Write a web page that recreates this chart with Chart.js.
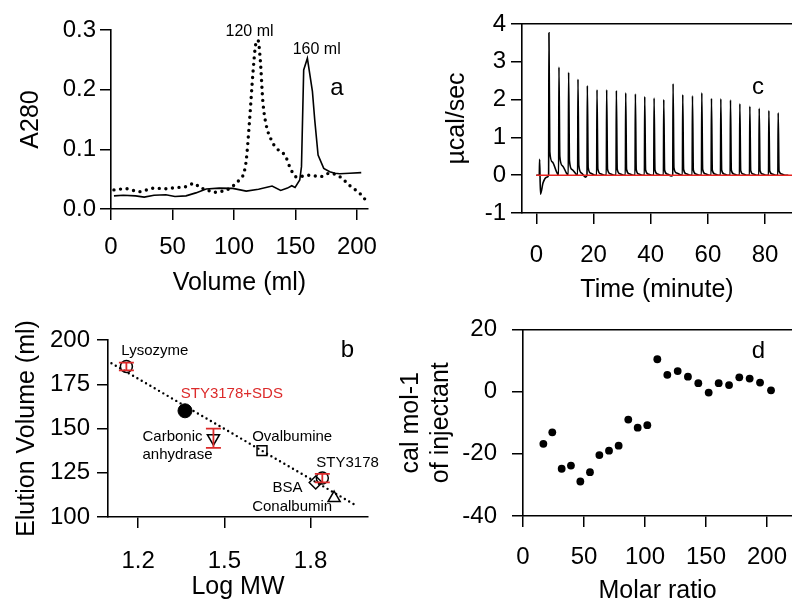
<!DOCTYPE html>
<html><head><meta charset="utf-8">
<script src="https://cdn.jsdelivr.net/npm/chart.js@4.4.1/dist/chart.umd.min.js"></script>
<style>
html,body{margin:0;padding:0;background:#fff;}
#wrap{position:relative;width:792px;height:603px;overflow:hidden;background:#fff;}
canvas{position:absolute;}
</style></head><body>
<div id="wrap">
<canvas id="ca" width="396" height="310" style="left:0;top:0"></canvas>
<canvas id="cc" width="420" height="310" style="left:396px;top:0"></canvas>
<canvas id="cb" width="396" height="303" style="left:0;top:300px"></canvas>
<canvas id="cd" width="420" height="306" style="left:396px;top:300px"></canvas>
</div>
<script>
// ---------------- Panel a: gel filtration profiles ----------------
const volSolid = [2.4, 10, 20, 27, 35, 44.6, 52, 61, 69, 77.4, 88, 99, 110, 120, 131, 138, 143.5, 147, 149.7, 153.5, 154.9, 156.7, 159.7, 163.8, 165.7, 168.4, 173, 177.9, 182, 186, 194, 203.5];
const a280Solid = [0.022, 0.023, 0.022, 0.020, 0.023, 0.024, 0.021, 0.022, 0.027, 0.0335, 0.035, 0.0346, 0.030, 0.033, 0.0385, 0.031, 0.035, 0.039, 0.036, 0.0486, 0.071, 0.233, 0.2525, 0.197, 0.149, 0.0905, 0.068, 0.0626, 0.0598, 0.059, 0.060, 0.061];
const volDotted = [2.4, 12, 22.9, 35, 44, 53, 60, 68, 72, 77.5, 83, 88.3, 97.8, 101.8, 104.6, 108, 110, 112.7, 115.4, 117.6, 119.5, 121.4, 123.5, 126.2, 130.3, 134.4, 139.8, 142.5, 145.3, 150.7, 153.5, 158.9, 164, 169.8, 178, 186.2, 194.3, 202.4, 207.9];
const a280Dotted = [0.032, 0.034, 0.029, 0.035, 0.034, 0.036, 0.037, 0.043, 0.036, 0.033, 0.028, 0.029, 0.036, 0.044, 0.049, 0.060, 0.082, 0.149, 0.227, 0.275, 0.283, 0.250, 0.180, 0.141, 0.116, 0.102, 0.094, 0.086, 0.071, 0.054, 0.054, 0.0565, 0.056, 0.054, 0.060, 0.054, 0.039, 0.026, 0.013];
const aXTicks = [0, 50, 100, 150, 200];
const aXLabels = ['0', '50', '100', '150', '200'];
const aYTicks = [0, 0.1, 0.2, 0.3];
const aYLabels = ['0.0', '0.1', '0.2', '0.3'];

// ---------------- Panel b: calibration ----------------
const stdNames = ['Lysozyme', 'Carbonic anhydrase', 'Ovalbumine', 'BSA', 'Conalbumin'];
const stdLogMW = [1.159, 1.462, 1.631, 1.818, 1.882];
const stdElution = [185, 144.5, 137.5, 119.5, 110.7];
const stdError = [2.2, 5.4, 0, 0, 0];
const sampleNames = ['STY3178', 'STY3178+SDS'];
const sampleLogMW = [1.841, 1.363];
const sampleElution = [122, 160];
const sampleError = [2.4, 0];
const fitLogMW = [1.107, 1.964];
const fitElution = [186.9, 106];
const bXTicks = [1.2, 1.5, 1.8];
const bXLabels = ['1.2', '1.5', '1.8'];
const bYTicks = [100, 125, 150, 175, 200];
const bYLabels = ['100', '125', '150', '175', '200'];

// ---------------- Panel c: ITC raw trace ----------------
const injTime = [1.16, 4.42, 7.92, 11.30, 14.57, 17.84, 21.22, 24.60, 27.99, 31.26, 34.64, 37.91, 41.18, 44.56, 47.82, 51.20, 54.60, 57.86, 61.24, 64.51, 67.89, 71.16, 74.66, 77.93, 81.31, 84.57];
const peakHeight = [0.42, 3.77, 2.86, 2.72, 2.54, 2.37, 2.26, 2.26, 2.24, 2.18, 2.15, 2.08, 2.04, 2.00, 2.42, 2.13, 2.10, 2.18, 2.03, 2.02, 1.99, 1.89, 1.82, 1.77, 1.71, 1.65];
const tailEarly = [-0.50, 0.62, 0.50, 0.38, 0.26, 0.20, 0.17, 0.16, 0.16, 0.15, 0.15, 0.14, 0.14, 0.13, 0.20, 0.15, 0.14, 0.15, 0.13, 0.13, 0.13, 0.12, 0.12, 0.12, 0.11, 0.11];
const tailMid = [-0.20, 0.35, 0.25, 0.15, 0.06, 0.05, 0.04, 0.04, 0.04, 0.04, 0.03, 0.03, 0.03, 0.03, 0.06, 0.04, 0.03, 0.04, 0.03, 0.03, 0.03, 0.03, 0.03, 0.03, 0.03, 0.03];
const tailLate = [-0.05, 0.10, 0.06, 0.03, -0.05, 0.0, 0.0, 0.0, 0.0, 0.0, 0.0, 0.0, 0.0, -0.02, 0.01, 0.0, 0.0, 0.0, 0.0, 0.0, 0.0, 0.0, 0.0, 0.0, 0.0, 0.0];
const traceStart = [0, 0];
const traceEnd = [88.1, 0];
const baselineTime = [0, 89.4];
const baselinePower = [0, 0];
const cXTicks = [0, 20, 40, 60, 80];
const cXLabels = ['0', '20', '40', '60', '80'];
const cYTicks = [-1, 0, 1, 2, 3, 4];
const cYLabels = ['-1', '0', '1', '2', '3', '4'];

// ---------------- Panel d: integrated heats ----------------
const molarRatio = [16.7, 24.0, 31.7, 39.3, 47.0, 54.9, 62.6, 70.5, 78.4, 86.3, 94.0, 101.9, 110.1, 118.3, 126.8, 135.2, 143.7, 152.2, 160.4, 168.9, 177.3, 185.8, 194.3, 203.3];
const heatPerInj = [-16.8, -13.1, -24.8, -23.8, -28.9, -25.9, -20.4, -19.0, -17.4, -9.0, -11.6, -10.8, 10.4, 5.4, 6.6, 4.8, 2.7, -0.3, 2.7, 2.1, 4.6, 4.2, 2.9, 0.4];
const dXTicks = [0, 50, 100, 150, 200];
const dXLabels = ['0', '50', '100', '150', '200'];
const dYTicks = [-40, -20, 0, 20];
const dYLabels = ['-40', '-20', '0', '20'];

// ================= rendering =================
const FONT = "'Liberation Sans', Arial, Helvetica, sans-serif";
Chart.defaults.font.family = FONT;
Chart.defaults.color = '#000';
Chart.defaults.animation = false;
const RED = '#dc2a2a';

function xy(xs, ys) { return xs.map((v, i) => ({x: v, y: ys[i]})); }

function xAxis(cfg) {
  return {
    type: 'linear', position: 'bottom', min: cfg.min, max: cfg.max,
    afterBuildTicks: s => { s.ticks = cfg.ticks.map(v => ({value: v})); },
    afterFit: s => { s.height = cfg.H - cfg.area.bottom; },
    ticks: {autoSkip: false, maxRotation: 0, minRotation: 0, padding: cfg.pad, font: {size: 24},
      callback: (v, i) => cfg.labels[i]},
    grid: {display: true, drawOnChartArea: false, drawTicks: true, tickLength: 11, tickWidth: 1.5, tickColor: '#000', color: '#000', lineWidth: 1.5},
    border: {display: true, color: '#000', width: 1.6},
    title: {display: true, text: cfg.title, font: {size: 25, lineHeight: 1}, padding: {top: 0, bottom: cfg.tpad}}
  };
}
function yAxis(cfg) {
  return {
    type: 'linear', position: 'left', min: cfg.min, max: cfg.max,
    afterBuildTicks: s => { s.ticks = cfg.ticks.map(v => ({value: v})); },
    afterFit: s => { s.width = cfg.area.left; },
    ticks: {autoSkip: false, padding: cfg.pad, font: {size: 24}, callback: (v, i) => cfg.labels[i]},
    grid: {display: true, drawOnChartArea: false, drawTicks: true, tickLength: 11, tickWidth: 1.5, tickColor: '#000', color: '#000', lineWidth: 1.5},
    border: {display: true, color: '#000', width: 1.6},
    title: {display: true, text: cfg.title, font: {size: 25, lineHeight: cfg.lh || 1}, padding: {top: cfg.tpad, bottom: 0}}
  };
}
function topFrame(min, max) {
  return {
    type: 'linear', position: 'top', min: min, max: max,
    afterFit: s => { s.height = 0; },
    ticks: {display: false}, grid: {display: false, drawTicks: false},
    border: {display: true, color: '#000', width: 1.6}
  };
}
function layoutFor(area, W) {
  return {padding: {left: 0, top: area.top, right: W - area.right, bottom: 0}};
}
function textPlugin(items) {
  return {
    id: 'texts',
    afterDatasetsDraw(chart) {
      const {ctx} = chart; const sx = chart.scales.x, sy = chart.scales.y;
      ctx.save();
      items.forEach(it => {
        ctx.font = it.size + 'px ' + FONT;
        ctx.fillStyle = it.color || '#000';
        ctx.textAlign = it.align || 'center';
        ctx.textBaseline = 'middle';
        ctx.fillText(it.text, sx.getPixelForValue(it.x), sy.getPixelForValue(it.y));
      });
      ctx.restore();
    }
  };
}
const basePlugins = {legend: {display: false}, tooltip: {enabled: false}};

// ---- Panel a ----
(function () {
  const W = 396, H = 310, area = {left: 111, top: 30, right: 368, bottom: 209};
  new Chart(document.getElementById('ca'), {
    type: 'scatter',
    data: {datasets: [
      {data: xy(volSolid, a280Solid), showLine: true, borderColor: '#000', borderWidth: 1.6, pointRadius: 0, tension: 0},
      {data: xy(volDotted, a280Dotted), showLine: true, borderColor: '#000', borderWidth: 3.4, borderDash: [0, 6.6], borderCapStyle: 'round', pointRadius: 0, cubicInterpolationMode: 'monotone'}
    ]},
    options: {
      responsive: false, layout: layoutFor(area, W), plugins: basePlugins,
      scales: {
        x: xAxis({min: 0, max: 209, ticks: aXTicks, labels: aXLabels, H, area, pad: 13, title: 'Volume (ml)', tpad: 14}),
        y: yAxis({min: 0, max: 0.3, ticks: aYTicks, labels: aYLabels, area, pad: 4, title: 'A280', tpad: 19})
      }
    },
    plugins: [textPlugin([
      {text: '120 ml', x: 112.7, y: 0.2966, size: 16},
      {text: '160 ml', x: 167.3, y: 0.2665, size: 16},
      {text: 'a', x: 183.7, y: 0.2028, size: 24}
    ])]
  });
})();

// ---- Panel c ----
(function () {
  const W = 420, H = 310, area = {left: 126, top: 24, right: 396, bottom: 213};
  const trace = [{x: traceStart[0], y: traceStart[1]}];
  injTime.forEach((t, i) => {
    trace.push({x: t - 0.12, y: 0});
    trace.push({x: t, y: peakHeight[i]});
    trace.push({x: t + 0.3, y: tailEarly[i]});
    trace.push({x: t + 1.2, y: tailMid[i]});
    trace.push({x: t + 2.6, y: tailLate[i]});
  });
  trace.push({x: traceEnd[0], y: traceEnd[1]});
  new Chart(document.getElementById('cc'), {
    type: 'scatter',
    data: {datasets: [
      {data: xy(baselineTime, baselinePower), showLine: true, borderColor: '#e8231f', borderWidth: 1.6, pointRadius: 0},
      {data: trace, showLine: true, borderColor: '#000', borderWidth: 1.6, pointRadius: 0, cubicInterpolationMode: 'monotone'}
    ]},
    options: {
      responsive: false, layout: layoutFor(area, W), plugins: basePlugins,
      scales: {
        x: xAxis({min: -5, max: 89.4, ticks: cXTicks, labels: cXLabels, H, area, pad: 17, title: 'Time (minute)', tpad: 7}),
        y: yAxis({min: -1, max: 4, ticks: cYTicks, labels: cYLabels, area, pad: 5, title: 'µcal/sec', tpad: 49}),
        x2: topFrame(-5, 89.4)
      }
    },
    plugins: [textPlugin([{text: 'c', x: 77.5, y: 2.316, size: 24}])]
  });
})();

// ---- Panel b ----
(function () {
  const W = 396, H = 303, area = {left: 108, top: 40, right: 368, bottom: 217};
  const stdStyles = [
    {pointStyle: 'circle', radius: 6, rotation: 0},
    {pointStyle: 'triangle', radius: 7, rotation: 180},
    {pointStyle: 'rect', radius: 7, rotation: 0},
    {pointStyle: 'rectRot', radius: 6.5, rotation: 0},
    {pointStyle: 'triangle', radius: 7, rotation: 0}
  ];
  const ds = [];
  ds.push({data: xy(fitLogMW, fitElution), showLine: true, borderColor: '#000', borderWidth: 2.4, borderDash: [0, 5], borderCapStyle: 'round', pointRadius: 0});
  stdLogMW.forEach((v, i) => {
    const st = stdStyles[i];
    ds.push({data: [{x: v, y: stdElution[i]}], pointStyle: st.pointStyle, pointRadius: st.radius, pointRotation: st.rotation,
      pointBorderColor: '#000', pointBackgroundColor: 'rgba(0,0,0,0)', pointBorderWidth: 1.5});
  });
  ds.push({data: [{x: sampleLogMW[0], y: sampleElution[0]}], pointStyle: 'circle', pointRadius: 6, pointBorderColor: '#000', pointBackgroundColor: 'rgba(0,0,0,0)', pointBorderWidth: 1.5});
  ds.push({data: [{x: sampleLogMW[1], y: sampleElution[1]}], pointStyle: 'circle', pointRadius: 7, pointBorderColor: '#000', pointBackgroundColor: '#000', pointBorderWidth: 1});
  const errPlugin = {
    id: 'errbars',
    afterDatasetsDraw(chart) {
      const {ctx} = chart; const sx = chart.scales.x, sy = chart.scales.y;
      const xs = stdLogMW.concat(sampleLogMW), ys = stdElution.concat(sampleElution), es = stdError.concat(sampleError);
      ctx.save(); ctx.strokeStyle = RED; ctx.lineWidth = 1.8;
      xs.forEach((v, i) => {
        if (!es[i]) return;
        const px = sx.getPixelForValue(v), t = sy.getPixelForValue(ys[i] + es[i]), b = sy.getPixelForValue(ys[i] - es[i]);
        ctx.beginPath();
        ctx.moveTo(px, t); ctx.lineTo(px, b);
        ctx.moveTo(px - 7.5, t); ctx.lineTo(px + 7.5, t);
        ctx.moveTo(px - 7.5, b); ctx.lineTo(px + 7.5, b);
        ctx.stroke();
      });
      ctx.restore();
    }
  };
  new Chart(document.getElementById('cb'), {
    type: 'scatter',
    data: {datasets: ds},
    options: {
      responsive: false, layout: layoutFor(area, W), plugins: basePlugins,
      scales: {
        x: xAxis({min: 1.095, max: 2.0, ticks: bXTicks, labels: bXLabels, H, area, pad: 19, title: 'Log MW', tpad: 3}),
        y: yAxis({min: 100, max: 200, ticks: bYTicks, labels: bYLabels, area, pad: 7, title: 'Elution Volume (ml)', tpad: 15})
      }
    },
    plugins: [errPlugin, textPlugin([
      {text: stdNames[0], x: 1.258, y: 193.8, size: 15},
      {text: sampleNames[1], x: 1.526, y: 169.4, size: 15, color: RED},
      {text: 'Carbonic', x: 1.215, y: 145.1, size: 15, align: 'left'},
      {text: 'anhydrase', x: 1.215, y: 135.2, size: 15, align: 'left'},
      {text: stdNames[2], x: 1.736, y: 145.1, size: 15},
      {text: sampleNames[0], x: 1.929, y: 130.5, size: 15},
      {text: stdNames[3], x: 1.72, y: 116.7, size: 15},
      {text: stdNames[4], x: 1.736, y: 106, size: 15},
      {text: 'b', x: 1.928, y: 194, size: 24}
    ])]
  });
})();

// ---- Panel d ----
(function () {
  const W = 420, H = 306, area = {left: 127, top: 28, right: 396, bottom: 216};
  new Chart(document.getElementById('cd'), {
    type: 'scatter',
    data: {datasets: [
      {data: xy(molarRatio, heatPerInj), pointRadius: 3.9, pointBackgroundColor: '#000', pointBorderColor: '#000', pointBorderWidth: 0}
    ]},
    options: {
      responsive: false, layout: layoutFor(area, W), plugins: basePlugins,
      scales: {
        x: xAxis({min: 0, max: 220.5, ticks: dXTicks, labels: dXLabels, H, area, pad: 16, title: 'Molar ratio', tpad: 2}),
        y: yAxis({min: -40, max: 20, ticks: dYTicks, labels: dYLabels, area, pad: 15, title: ['cal mol-1', 'of injectant'], tpad: 0, lh: 1.2}),
        x2: topFrame(0, 220.5)
      }
    },
    plugins: [textPlugin([{text: 'd', x: 192.9, y: 12.8, size: 24}])]
  });
})();
</script>
</body></html>
